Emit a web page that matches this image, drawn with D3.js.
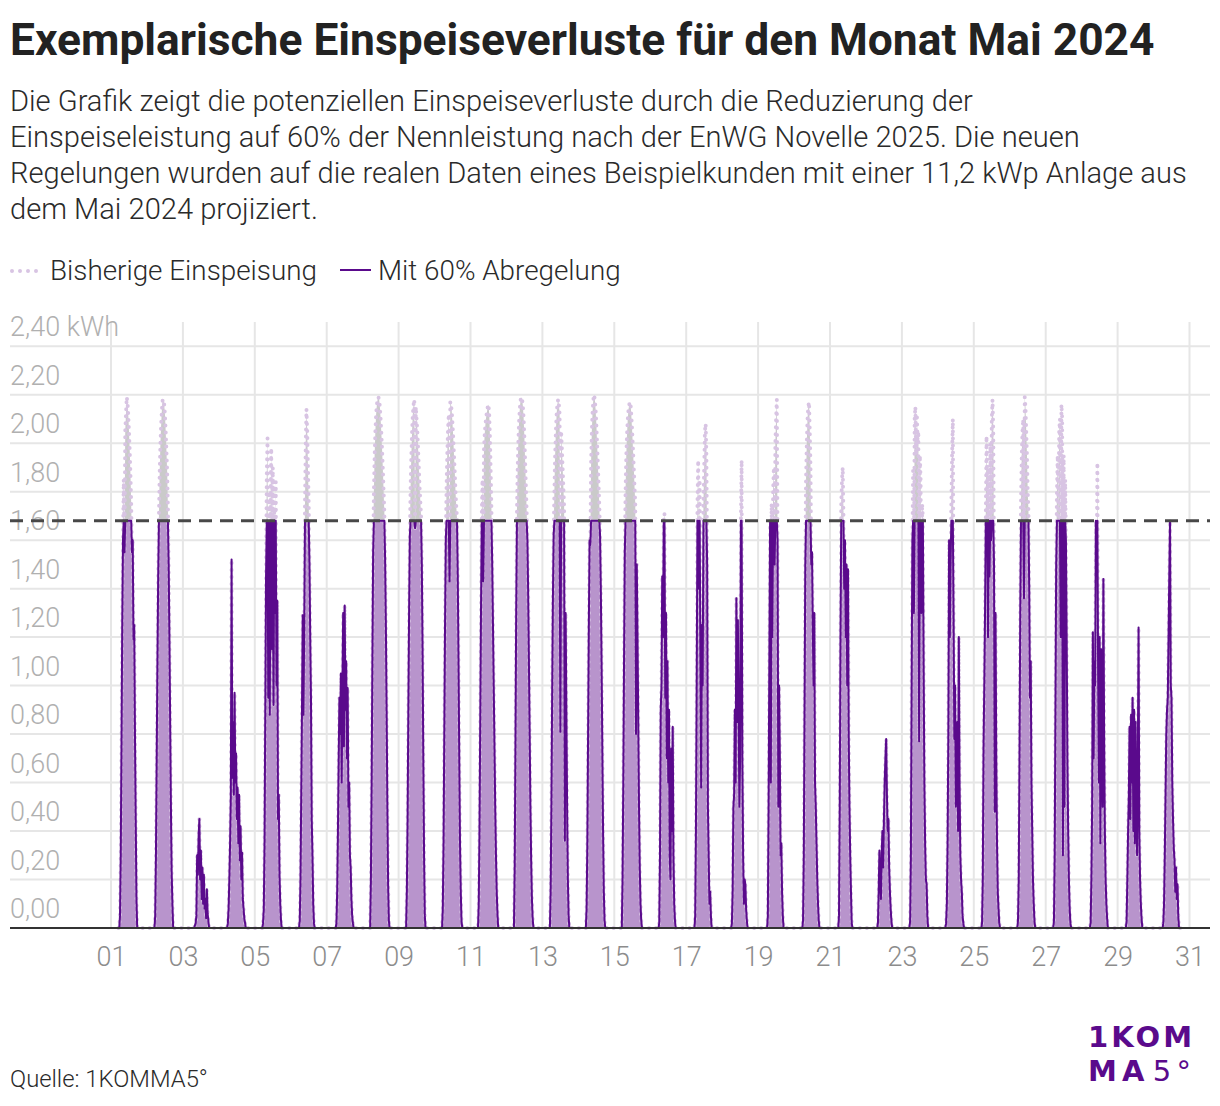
<!DOCTYPE html>
<html><head><meta charset="utf-8">
<script src="https://cdn.jsdelivr.net/npm/d3@7/dist/d3.min.js"></script>
<style>
body{margin:0;background:#fff}
svg{display:block}
text{font-family:Roboto,"Noto Sans",sans-serif}
</style>
</head><body>
<svg id="chart" width="1220" height="1106"></svg>
<script>
// ---------- texts ----------
const titleText = "Exemplarische Einspeiseverluste für den Monat Mai 2024";
const subtitleLines = [
  "Die Grafik zeigt die potenziellen Einspeiseverluste durch die Reduzierung der",
  "Einspeiseleistung auf 60% der Nennleistung nach der EnWG Novelle 2025. Die neuen",
  "Regelungen wurden auf die realen Daten eines Beispielkunden mit einer 11,2 kWp Anlage aus",
  "dem Mai 2024 projiziert."
];
const legendLabels = ["Bisherige Einspeisung", "Mit 60% Abregelung"];
const sourceText = "Quelle: 1KOMMA5°";
const logoLine1 = "1KOM";
const logoLine2a = "MA";
const logoLine2b = "5°";

// ---------- axes ----------
const yTicks = [0, 0.2, 0.4, 0.6, 0.8, 1.0, 1.2, 1.4, 1.6, 1.8, 2.0, 2.2, 2.4];
const yUnit = "kWh";
const xTickDays = [1, 3, 5, 7, 9, 11, 13, 15, 17, 19, 21, 23, 25, 27, 29, 31];
const capKWh = 1.68; // 60 % of 11,2 kWp per 15 min

// ---------- data: half-hour slots 05:00 .. 18:30, kWh, per day of May 2024 ----------
const slotTimes = ["05:00","05:30","06:00","06:30","07:00","07:30","08:00","08:30","09:00","09:30",
  "10:00","10:30","11:00","11:30","12:00","12:30","13:00","13:30","14:00","14:30",
  "15:00","15:30","16:00","16:30","17:00","17:30","18:00","18:30"];
const feedInByDay = [
 /*01*/[0,0,0.05,0.3,0.75,1.25,1.6,1.85,1.55,2.05,2.12,2.19,2.17,2.12,2.05,1.97,1.87,1.75,1.55,1.6,1.19,1.25,0.8,0.45,0.12,0,0,0],
 /*02*/[0,0.05,0.3,0.7,1.1,1.45,1.7,1.88,2.0,2.08,2.14,2.18,2.18,2.16,2.12,2.05,1.97,1.88,1.73,1.5,1.2,0.85,0.5,0.23,0.1,0,0,0],
 /*03*/[0,0,0,0,0,0,0.01,0.02,0.05,0.3,0.22,0.38,0.45,0.2,0.32,0.12,0.25,0.1,0.22,0.08,0.12,0.04,0.16,0.06,0.03,0,0,0],
 /*04*/[0,0,0.02,0.08,0.2,0.35,0.55,1.52,0.62,0.85,0.55,0.97,0.6,0.72,0.45,0.58,0.35,0.55,0.28,0.42,0.2,0.31,0.12,0.08,0.04,0.02,0,0],
 /*05*/[0,0.02,0.08,0.35,0.9,1.45,1.88,2.02,0.95,1.8,0.88,1.75,1.98,1.15,1.9,0.92,1.72,1.3,1.84,1.0,1.35,0.45,0.55,0.22,0.1,0.03,0,0],
 /*06*/[0,0,0.03,0.2,0.55,0.9,1.29,0.88,1.25,1.75,2.0,2.14,2.05,1.9,1.75,1.5,1.2,0.95,0.45,0.3,0.1,0.02,0,0,0,0,0,0],
 /*07*/[0,0,0,0.02,0.15,0.4,0.7,0.95,0.8,1.05,0.6,1.0,1.3,0.75,1.33,0.9,1.1,0.7,0.99,0.5,0.6,0.3,0.25,0.12,0.05,0.02,0,0],
 /*08*/[0,0.2,0.6,1.1,1.55,1.8,1.95,2.05,2.12,2.16,2.18,2.19,2.18,2.15,2.1,2.04,1.97,1.89,1.8,1.71,1.52,1.25,0.9,0.5,0.18,0.03,0,0],
 /*09*/[0,0.15,0.45,0.9,1.3,1.62,1.82,1.95,2.05,2.12,2.16,2.18,1.65,2.15,2.1,2.05,1.98,1.9,1.82,1.76,1.7,1.5,1.15,0.7,0.3,0.05,0,0],
 /*10*/[0,0.08,0.35,0.8,1.25,1.6,1.82,1.96,2.06,2.12,1.43,2.17,2.16,2.13,2.08,2.02,1.95,1.88,1.8,1.74,1.69,1.45,1.1,0.7,0.35,0.15,0.03,0],
 /*11*/[0,0.1,0.4,0.85,1.3,1.7,1.85,1.43,1.98,2.04,2.08,2.11,2.13,2.15,2.16,2.12,2.02,1.88,1.72,1.5,1.25,1.0,0.75,0.5,0.3,0.15,0.06,0],
 /*12*/[0,0.25,0.75,1.3,1.72,1.9,2.02,2.1,2.15,2.18,2.19,2.18,2.15,2.1,2.02,1.92,1.82,1.72,1.6,1.38,1.1,0.8,0.5,0.28,0.12,0.04,0,0],
 /*13*/[0,0.15,0.5,0.95,1.35,1.62,1.8,1.95,2.05,2.12,2.16,2.18,2.16,2.12,0.81,2.05,1.98,1.9,1.82,1.74,0.36,1.3,0.9,0.5,0.2,0.05,0,0],
 /*14*/[0,0.08,0.35,0.8,1.25,1.6,1.58,1.92,2.05,2.13,2.18,2.2,2.18,2.14,2.08,2.0,1.92,1.83,1.74,1.62,1.4,1.1,0.75,0.4,0.15,0.03,0,0],
 /*15*/[0,0.2,0.6,1.1,1.55,1.8,1.95,2.04,2.1,2.14,2.16,2.17,2.15,2.1,2.04,1.97,1.9,1.82,1.75,0.8,1.5,1.2,0.85,0.5,0.25,0.1,0.03,0],
 /*16*/[0,0,0.02,0.3,0.9,1.0,1.45,1.2,1.68,1.71,0.95,1.3,0.7,1.1,0.6,0.9,0.3,0.2,0.74,0.4,0.83,0.3,0.1,0.03,0,0,0,0],
 /*17*/[0,0,0.05,0.4,1.0,1.75,1.93,1.4,1.85,1.1,0.58,1.25,1.0,1.75,1.9,2.05,2.08,1.95,1.5,0.5,0.3,0.1,0.15,0.05,0,0,0,0],
 /*18*/[0,0,0,0.02,0.15,0.5,0.55,0.9,0.6,1.36,0.85,1.27,0.9,0.5,0.7,1.68,1.93,0.7,0.3,0.1,0.2,0.18,0.08,0.03,0,0,0,0],
 /*19*/[0,0,0,0.05,0.5,1.1,1.68,0.6,1.75,1.2,1.8,1.9,1.5,2.0,2.1,2.18,1.6,0.5,1.0,0.72,0.3,0.35,0.15,0.05,0,0,0,0],
 /*20*/[0,0,0.03,0.3,0.9,1.5,1.85,2.0,2.1,2.15,2.17,2.05,1.9,1.5,1.55,1.25,1.0,1.3,0.6,0.5,0.35,0.2,0.1,0.03,0,0,0,0],
 /*21*/[0,0,0.05,0.5,1.2,1.75,1.85,1.9,1.7,1.4,1.6,1.2,1.5,1.0,1.48,0.8,0.5,0.3,0.15,0.02,0,0,0,0,0,0,0,0],
 /*22*/[0,0,0,0,0,0,0.02,0.15,0.32,0.2,0.12,0.3,0.4,0.25,0.45,0.6,0.7,0.78,0.55,0.4,0.45,0.25,0.15,0.08,0.03,0,0,0],
 /*23*/[0,0.03,0.3,1.0,1.6,1.9,1.3,2.1,2.15,1.95,2.12,2.0,2.05,0.77,1.95,1.85,1.3,1.75,1.69,1.1,0.6,0.35,0.2,0.18,0.05,0,0,0],
 /*24*/[0,0.02,0.1,0.35,0.8,1.6,1.2,1.5,1.75,1.95,2.1,1.3,0.78,1.0,0.5,0.65,0.85,0.4,1.2,0.6,0.3,0.2,0.15,0.05,0.02,0,0,0],
 /*25*/[0,0.02,0.2,0.75,1.0,1.3,1.7,2.03,1.8,1.2,1.9,1.45,2.0,1.6,2.1,2.18,2.05,1.5,0.48,1.3,0.7,0.35,0.15,0.08,0.02,0,0,0],
 /*26*/[0,0.03,0.2,0.7,1.3,1.75,1.95,2.05,2.1,1.36,2.19,2.15,2.05,1.95,1.8,1.72,1.4,0.95,1.1,0.6,0.4,0.2,0.1,0.03,0,0,0,0],
 /*27*/[0,0.03,0.3,0.9,1.5,1.8,1.95,1.7,2.05,2.1,1.2,2.16,2.1,0.3,1.95,0.5,1.85,1.6,1.2,0.7,0.4,0.2,0.08,0.02,0,0,0,0],
 /*28*/[0,0,0.02,0.2,0.5,1.22,0.7,1.1,1.0,1.68,1.5,1.92,1.05,0.6,1.2,0.35,1.15,0.7,0.5,1.44,0.8,0.4,0.2,0.1,0.04,0,0,0],
 /*29*/[0,0,0.03,0.2,0.4,0.55,0.83,0.45,0.88,0.6,0.95,0.4,0.9,0.35,0.85,0.55,0.3,0.7,1.24,0.4,0.2,0.1,0.04,0,0,0,0,0],
 /*30*/[0,0,0,0.02,0.1,0.3,0.55,0.8,0.9,0.95,1.2,1.45,1.68,1.0,0.95,0.6,0.45,0.33,0.28,0.15,0.25,0.12,0.18,0.05,0,0,0,0]
];

// ---------- build series ----------
const series = [];
feedInByDay.forEach((vals, di) => {
  vals.forEach((v, si) => {
    const [hh, mm] = slotTimes[si].split(":").map(Number);
    const t = new Date(2024, 4, di + 1, hh, mm);
    series.push({t, orig: v, capped: Math.min(v, capKWh)});
  });
});

// ---------- layout ----------
const plotLeft = 10, plotRight = 1210, plotTop = 322, plotBottom = 928;
const svg = d3.select("#chart");

const x = d3.scaleTime()
  .domain([new Date(2024, 4, 1), new Date(2024, 4, 31)])
  .range([111, 1189.5]);
const y = d3.scaleLinear().domain([0, 2.5]).range([plotBottom, plotTop]);

function fitWidth(sel, target) {
  const w = sel.node().getComputedTextLength();
  const fs = parseFloat(sel.attr("font-size"));
  sel.attr("font-size", fs * target / w);
  return fs * target / w;
}

// title
const title = svg.append("text").attr("x", 10).attr("y", 55)
  .attr("font-size", 40).attr("font-weight", 700).attr("fill", "#222").text(titleText);
fitWidth(title, 1145);

// subtitle
const subs = subtitleLines.map((s, i) => svg.append("text").attr("x", 10).attr("y", 111 + i * 36)
  .attr("font-size", 26).attr("font-weight", 300).attr("fill", "#2a2a2a").text(s));
const subFs = fitWidth(subs[2], 1177);
subs.forEach(s => s.attr("font-size", subFs));

// legend
const lg = svg.append("g");
lg.append("line").attr("x1", 12).attr("x2", 40).attr("y1", 271).attr("y2", 271)
  .attr("stroke", "#d8c4e3").attr("stroke-width", 4).attr("stroke-linecap", "round")
  .attr("stroke-dasharray", "0 8");
const lt1 = lg.append("text").attr("x", 50).attr("y", 280).attr("font-size", 26)
  .attr("font-weight", 300).attr("fill", "#2a2a2a").text(legendLabels[0]);
const lfs = fitWidth(lt1, 267);
lg.append("line").attr("x1", 340).attr("x2", 371).attr("y1", 270).attr("y2", 270)
  .attr("stroke", "#5a0a8c").attr("stroke-width", 2);
lg.append("text").attr("x", 378).attr("y", 280).attr("font-size", lfs)
  .attr("font-weight", 300).attr("fill", "#2a2a2a").text(legendLabels[1]);

// gridlines
const grid = svg.append("g");
grid.selectAll("line.h").data(yTicks).join("line").attr("class", "h")
  .attr("x1", plotLeft).attr("x2", plotRight)
  .attr("y1", d => y(d)).attr("y2", d => y(d))
  .attr("stroke", "#e6e6e6").attr("stroke-width", 2);
grid.selectAll("line.v").data(xTickDays).join("line").attr("class", "v")
  .attr("x1", d => x(new Date(2024, 4, d))).attr("x2", d => x(new Date(2024, 4, d)))
  .attr("y1", plotTop).attr("y2", plotBottom)
  .attr("stroke", "#e6e6e6").attr("stroke-width", 2);

// y labels
const fmt = v => v.toFixed(2).replace(".", ",");
const yl = svg.append("g");
yl.selectAll("text").data(yTicks).join("text")
  .attr("x", 10).attr("y", d => y(d) - 10)
  .attr("font-size", 27).attr("font-weight", 300).attr("fill", "#b0b0b0")
  .text((d, i) => i === yTicks.length - 1 ? fmt(d) + " " + yUnit : fmt(d));

// areas and lines
const lossArea = d3.area().x(d => x(d.t)).y0(d => y(d.capped)).y1(d => y(d.orig));
const cappedArea = d3.area().x(d => x(d.t)).y0(y(0)).y1(d => y(d.capped));
const origLine = d3.line().x(d => x(d.t)).y(d => y(d.orig));
const capLine = d3.line().x(d => x(d.t)).y(d => y(d.capped));

svg.append("path").datum(series).attr("d", lossArea).attr("fill", "#cacaca");
svg.append("path").datum(series).attr("d", cappedArea).attr("fill", "#b894cc");
svg.append("path").datum(series).attr("d", origLine).attr("fill", "none")
  .attr("stroke", "#d8c4e3").attr("stroke-width", 4).attr("stroke-linecap", "round")
  .attr("stroke-dasharray", "0 7");
svg.append("path").datum(series).attr("d", capLine).attr("fill", "none")
  .attr("stroke", "#5a0a8c").attr("stroke-width", 2).attr("stroke-linejoin", "round");

// cap line
svg.append("line").attr("x1", plotLeft).attr("x2", plotRight)
  .attr("y1", y(capKWh)).attr("y2", y(capKWh))
  .attr("stroke", "#484848").attr("stroke-width", 3).attr("stroke-dasharray", "13 8");

// x axis
const xAxis = d3.axisBottom(x)
  .tickValues(xTickDays.map(d => new Date(2024, 4, d)))
  .tickFormat(d3.timeFormat("%d")).tickSize(0).tickPadding(0);
const xg = svg.append("g").attr("transform", `translate(0,${plotBottom})`).call(xAxis);
xg.select(".domain").remove();
xg.selectAll("text").attr("y", 38).attr("dy", null)
  .attr("font-size", 27).attr("font-weight", 300).attr("fill", "#8c8c8c");
svg.append("line").attr("x1", plotLeft).attr("x2", plotRight)
  .attr("y1", plotBottom).attr("y2", plotBottom)
  .attr("stroke", "#333").attr("stroke-width", 2);

// source
const src = svg.append("text").attr("x", 10).attr("y", 1087).attr("font-size", 22)
  .attr("font-weight", 300).attr("fill", "#2a2a2a").text(sourceText);
fitWidth(src, 198);

// logo
const logoFont = "'DejaVu Sans',Roboto,sans-serif";
const l1 = svg.append("text").attr("x", 1088).attr("y", 1047).attr("font-size", 29)
  .style("font-family", logoFont).attr("font-weight", 700).attr("fill", "#5a0a8c").text(logoLine1);
const w1 = l1.node().getComputedTextLength();
l1.attr("letter-spacing", Math.max(0, (104 - w1) / 3));
const l2 = svg.append("text").attr("x", 1088).attr("y", 1081).attr("font-size", 29)
  .style("font-family", logoFont).attr("font-weight", 700).attr("fill", "#5a0a8c");
l2.append("tspan").text(logoLine2a);
l2.append("tspan").attr("font-weight", 400).attr("dx", 3).text(logoLine2b);
const w2 = l2.node().getComputedTextLength();
l2.attr("letter-spacing", Math.max(0, (100 - w2) / 3));
</script>
</body></html>
